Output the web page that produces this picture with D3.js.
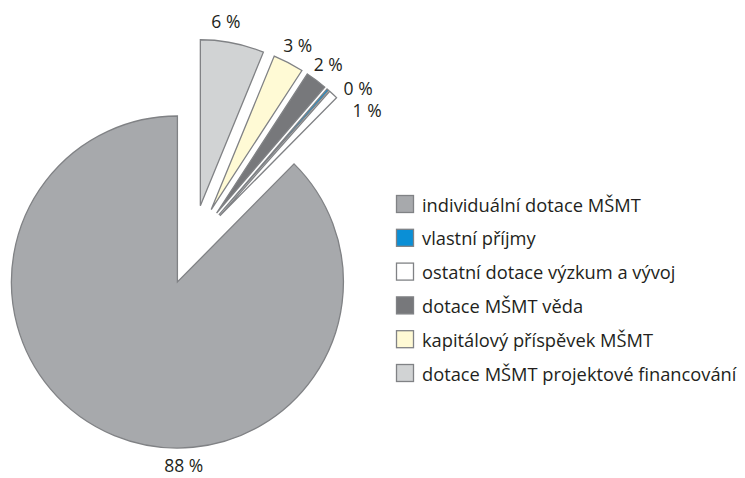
<!DOCTYPE html>
<html>
<head>
<meta charset="utf-8">
<script src="https://cdn.jsdelivr.net/npm/d3@7"></script>
<style>
    body { margin: 0; background: #fff; }
    svg { display: block; font-family: "Open Sans", Lato, sans-serif; }
</style>
</head>
<body>
<svg id="chart" width="745" height="478"></svg>
<script>

// Legend order
const categories = [
    "individuální dotace MŠMT",
    "vlastní příjmy",
    "ostatní dotace výzkum a vývoj",
    "dotace MŠMT věda",
    "kapitálový příspěvek MŠMT",
    "dotace MŠMT projektové financování"
];

// Shares in percent (legend order)
const shares = [87.6, 0.2, 0.9, 2.1, 3.0, 6.2];

// Labels shown next to slices (legend order)
const shareLabels = ["88 %", "0 %", "1 %", "2 %", "3 %", "6 %"];

// Order of slices clockwise from 12 o'clock
const sliceOrder = [
    "dotace MŠMT projektové financování",
    "kapitálový příspěvek MŠMT",
    "dotace MŠMT věda",
    "vlastní příjmy",
    "ostatní dotace výzkum a vývoj",
    "individuální dotace MŠMT"
];

const fills = ["#a7a9ac", "#0a8fd6", "#ffffff", "#77787b", "#fffad5", "#d1d3d4"];

/*
|--------------------------------------------------------------------------
| Layout
|--------------------------------------------------------------------------
*/

const center = { x: 192.6, y: 245 };
const radius = 166;
const explode = 40;
const labelOffset = 20;

// small tweaks so labels do not collide: [angle in degrees, radial px]
const labelNudge = {
    "dotace MŠMT projektové financování": [-2.7, 0],
    "vlastní příjmy": [5.5, 2],
    "ostatní dotace výzkum a vývoj": [9.3, -5.5],
    "individuální dotace MŠMT": [-20, -6]
};

const color = d3.scaleOrdinal().domain(categories).range(fills);

const rows = sliceOrder.map(c => {
    const i = categories.indexOf(c);
    return { key: c, value: shares[i], label: shareLabels[i] };
});

const pie = d3.pie().sort(null).value(d => d.value);
const arc = d3.arc().innerRadius(0).outerRadius(radius);

const svg = d3.select("#chart");

const g = svg.append("g")
.attr("transform", `translate(${center.x},${center.y})`);

const slices = g.selectAll("g.slice")
.data(pie(rows))
.enter()
.append("g")
.attr("class", "slice")
.attr("transform", d => {
    const mid = (d.startAngle + d.endAngle) / 2;
    return `translate(${explode * Math.sin(mid)},${-explode * Math.cos(mid)})`;
});

slices.append("path")
.attr("d", arc)
.attr("fill", d => color(d.data.key))
.attr("stroke", "#808285")
.attr("stroke-width", 1.3)
.attr("stroke-linejoin", "miter");

// labels
g.selectAll("text.pct")
.data(pie(rows))
.enter()
.append("text")
.attr("class", "pct")
.attr("transform", d => {
    const n = labelNudge[d.data.key] || [0, 0];
    const mid = (d.startAngle + d.endAngle) / 2 + n[0] * Math.PI / 180;
    const r = explode + radius + labelOffset + n[1];
    return `translate(${r * Math.sin(mid)},${-r * Math.cos(mid)})`;
})
.attr("text-anchor", "middle")
.attr("dominant-baseline", "central")
.attr("fill", "#231f20")
.style("font-size", "17.5px")
.text(d => d.data.label);

/*
|--------------------------------------------------------------------------
| Legend
|--------------------------------------------------------------------------
*/

const legend = svg.append("g")
.attr("transform", "translate(396,195)");

const legendY = d3.scalePoint()
.domain(categories)
.range([9, 178]);

const item = legend.selectAll("g")
.data(categories)
.enter()
.append("g")
.attr("transform", d => `translate(0,${legendY(d)})`);

item.append("rect")
.attr("x", 0.5)
.attr("y", -8.5)
.attr("width", 17)
.attr("height", 17)
.attr("fill", d => color(d))
.attr("stroke", "#808285")
.attr("stroke-width", 1.3);

item.append("text")
.attr("x", 26)
.attr("y", 0)
.attr("dominant-baseline", "central")
.attr("fill", "#231f20")
.style("font-size", "18.3px")
.text(d => d);

</script>
</body>
</html>
